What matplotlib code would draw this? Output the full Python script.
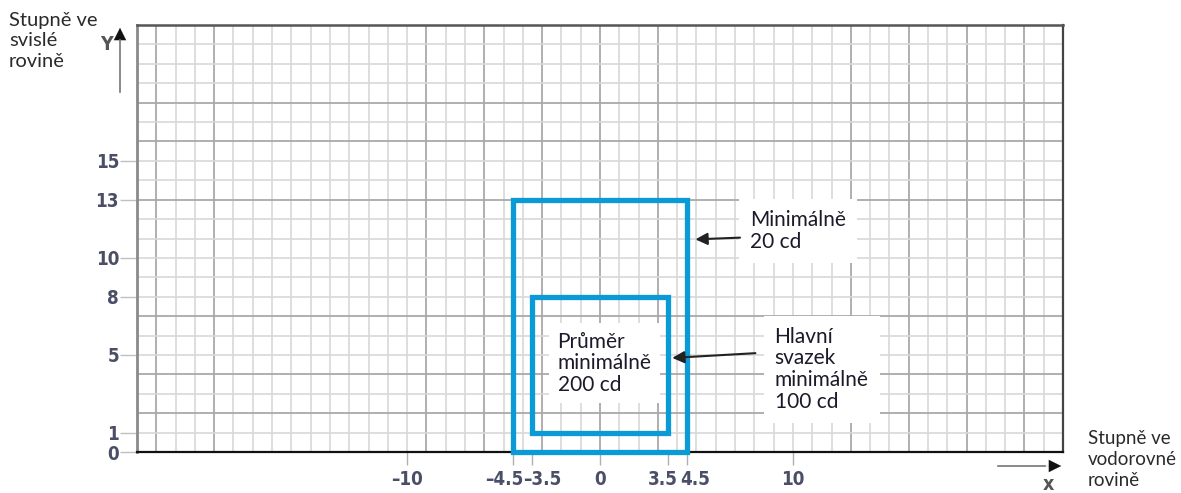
import matplotlib
matplotlib.use("Agg")
import matplotlib.pyplot as plt
from matplotlib.patches import Rectangle
from matplotlib import font_manager
from matplotlib.font_manager import FontProperties
import matplotlib.transforms as mtransforms

# ---- data ----
outer_x = [-4.5, 4.5]
outer_y = [0, 13]
inner_x = [-3.5, 3.5]
inner_y = [1, 8]
x_ticks = [-10, -4.5, -3.5, 0, 3.5, 4.5, 10]
x_tick_labels = ["\u201310", "\u20134.5", "\u20133.5", "0", "3.5", "4.5", "10"]
y_ticks = [0, 1, 5, 8, 10, 13, 15]
y_tick_labels = ["0", "1", "5", "8", "10", "13", "15"]
x_range = [-24, 24]
y_range = [0, 22]
dark_v = [-23, -20, -9, -6, -3, 0, 3, 13, 16, 19, 22]
dark_h = [2, 4, 7, 13, 16, 18]
label_outer = "Minimálně\n20 cd"
label_inner = "Průměr\nminimálně\n200 cd"
label_main = "Hlavní\nsvazek\nminimálně\n100 cd"
label_y = "Stupně ve\nsvislé\nrovině"
label_x = "Stupně ve\nvodorovné\nrovině"

# pick a condensed font for tick labels if available
cond = None
for f in font_manager.fontManager.ttflist:
    nm = f.name + " " + f.fname
    if ("Narrow" in nm or "Condensed" in nm or str(f.stretch) in ("condensed", "semi-condensed", "500")) \
            and f.style == "normal":
        if cond is None or (("Bold" in f.fname or f.weight in ("bold", 700)) and not ("Bold" in cond.fname)):
            cond = f
if cond is not None:
    tick_fp = FontProperties(fname=cond.fname, size=13.5)
else:
    tick_fp = FontProperties(family="Roboto", weight="medium", size=12.5)
text_font = "Lato"

W, H = 1181, 493
fig = plt.figure(figsize=(W / 100, H / 100), dpi=100)
ax = fig.add_axes([137 / W, 1 - 452 / H, (1063 - 137) / W, (452 - 25) / H])
ax.set_xlim(*x_range)
ax.set_ylim(*y_range)

blue = "#0a9bd7"
for v in range(x_range[0] + 1, x_range[1]):
    dark = v in dark_v
    ax.axvline(v, color="#a9a9a9" if dark else "#d8d8d8", lw=1.3 if dark else 1.2, zorder=1)
for h in range(y_range[0] + 1, y_range[1]):
    dark = h in dark_h
    ax.axhline(h, color="#a9a9a9" if dark else "#d8d8d8", lw=1.3 if dark else 1.2, zorder=1)

ax.add_patch(Rectangle((outer_x[0], outer_y[0]), outer_x[1] - outer_x[0], outer_y[1] - outer_y[0],
                       fill=False, ec=blue, lw=3.8, zorder=5, clip_on=False))
ax.add_patch(Rectangle((inner_x[0], inner_y[0]), inner_x[1] - inner_x[0], inner_y[1] - inner_y[0],
                       fill=False, ec=blue, lw=3.8, zorder=5))

tfs = 15
ax.text(7.8, 12.45, label_outer, fontsize=tfs, family=text_font, color="#1a1a2a",
        va="top", ha="left", linespacing=1.1, zorder=4,
        bbox=dict(fc="white", ec="none", pad=8))
ax.text(-2.2, 6.2, label_inner, fontsize=tfs, family=text_font, color="#1a1a2a",
        va="top", ha="left", linespacing=1.1, zorder=4,
        bbox=dict(fc="white", ec="none", pad=6))
ax.text(9.05, 6.45, label_main, fontsize=tfs, family=text_font, color="#1a1a2a",
        va="top", ha="left", linespacing=1.1, zorder=4,
        bbox=dict(fc="white", ec="none", pad=8))

ax.annotate("", xy=(4.8, 10.95), xytext=(7.4, 11.05),
            arrowprops=dict(arrowstyle="-|>", color="#222222", lw=1.5, mutation_scale=18), zorder=6)
ax.annotate("", xy=(3.6, 4.84), xytext=(8.2, 5.1),
            arrowprops=dict(arrowstyle="-|>", color="#222222", lw=1.5, mutation_scale=18), zorder=6)

ax.set_xticks(x_ticks)
ax.set_xticklabels(x_tick_labels)
ax.set_yticks(y_ticks)
ax.set_yticklabels(y_tick_labels)
ax.tick_params(axis="x", length=9, width=1, color="#b0b0b0", pad=4, labelcolor="#4a4e66")
ax.tick_params(axis="y", length=12, width=1, color="#c0c0c0", pad=1, labelcolor="#4a4e66")
for lab in ax.get_xticklabels() + ax.get_yticklabels():
    lab.set_fontproperties(tick_fp)
# nudge crowded x labels
shifts = {"\u20134.5": -9, "\u20133.5": 10, "3.5": -5, "4.5": 8}
for lab in ax.get_xticklabels():
    dx = shifts.get(lab.get_text(), 0)
    if dx:
        lab.set_transform(lab.get_transform() + mtransforms.ScaledTranslation(dx / 100, 0, fig.dpi_scale_trans))

ax.spines["bottom"].set_color("#111111")
ax.spines["bottom"].set_linewidth(1.6)
ax.spines["left"].set_color("#8a8a8a")
ax.spines["left"].set_linewidth(2.0)
ax.spines["top"].set_color("#555555")
ax.spines["top"].set_linewidth(1.8)
ax.spines["right"].set_color("#444444")
ax.spines["right"].set_linewidth(1.6)


def fp(px, py):
    return (px / W, 1 - py / H)


fig.text(*fp(9, 12), label_y, fontsize=14.5, family=text_font, color="#2a2a2a",
         va="top", ha="left", linespacing=1.25)
fig.text(*fp(1088, 430), label_x, fontsize=13.5, family=text_font, color="#2a2a2a",
         va="top", ha="left", linespacing=1.3)

fig.add_artist(plt.Line2D([120 / W, 120 / W], [1 - 92 / H, 1 - 40 / H], color="#777777", lw=1.2))
ax.annotate("", xy=fp(120, 25), xytext=fp(120, 45), xycoords="figure fraction",
            arrowprops=dict(arrowstyle="-|>", color="#111111", lw=0.1, mutation_scale=22), annotation_clip=False)
yx_fp = tick_fp.copy()
yx_fp.set_size(14)
fig.text(*fp(107, 45), "Y", fontproperties=yx_fp, color="#555555", ha="center", va="center")

fig.add_artist(plt.Line2D([998 / W, 1045 / W], [1 - 466 / H, 1 - 466 / H], color="#777777", lw=1.2))
ax.annotate("", xy=fp(1064, 466), xytext=fp(1040, 466), xycoords="figure fraction",
            arrowprops=dict(arrowstyle="-|>", color="#111111", lw=0.1, mutation_scale=22), annotation_clip=False)
fig.text(*fp(1048, 484), "x", fontproperties=yx_fp, color="#555555", ha="center", va="center")

fig.savefig("out.png", dpi=100, facecolor="white")
